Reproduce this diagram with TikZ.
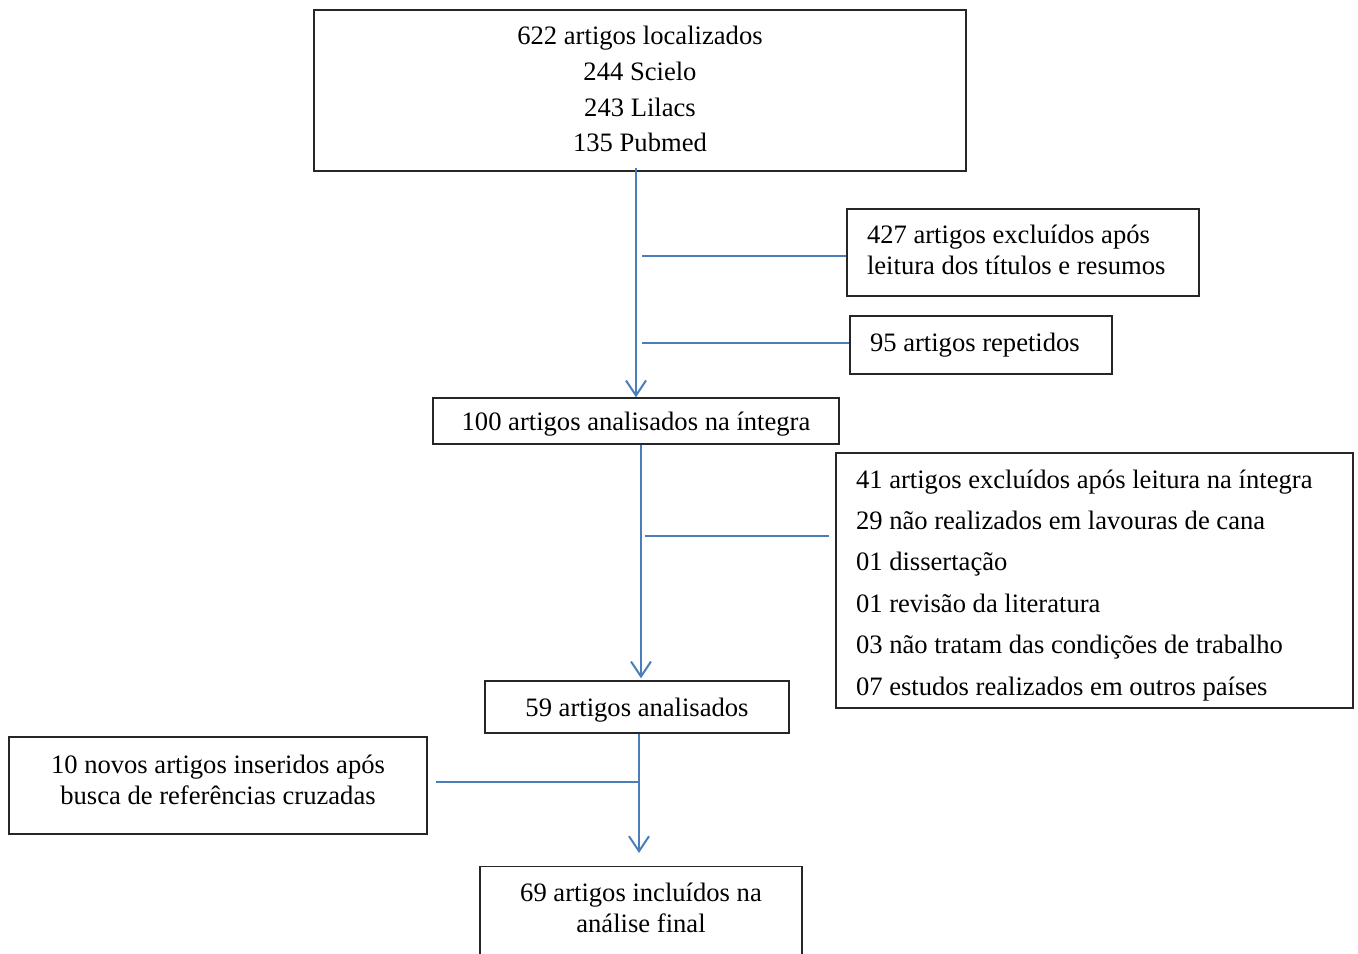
\documentclass[tikz,border=0pt]{standalone}
\usepackage{fontspec}
\setmainfont{Liberation Serif}
\usetikzlibrary{arrows.meta}
\definecolor{flowblue}{HTML}{4A7EBB}
\tikzset{
  box/.style={draw=black!85, line width=0.7pt, inner sep=0pt},
  flow/.style={draw=flowblue, line width=1pt},
  flowarrow/.style={flow, -{Straight Barb[length=7.5pt,width=10pt]}},
  txt/.style={font=\fontsize{13.3}{#1}\selectfont}
}
\begin{document}
\begin{tikzpicture}[x=0.5pt, y=-0.5pt]
\useasboundingbox (0,0) rectangle (1358,953);

\node[box, txt=17.9pt, minimum width=326pt, minimum height=80.5pt, align=center, text depth=1.5pt] (found) at (640,90.5)
  {622 artigos localizados\\244 Scielo\\243 Lilacs\\135 Pubmed};
\node[box, txt=15.5pt, minimum width=176pt, minimum height=43.5pt, text width=156pt, align=flush left, text depth=18.3pt] (titles) at (1023,252.5)
  {427 artigos excluídos após\\leitura dos títulos e resumos};
\node[box, txt=15.5pt, minimum width=131pt, minimum height=29pt, text width=111pt, align=flush left] (repeated) at (981,345)
  {95 artigos repetidos};
\node[box, txt=15.5pt, minimum width=203pt, minimum height=23pt, text depth=-2.2pt] (analysed) at (636,421)
  {100 artigos analisados na íntegra};
\node[box, txt=20.7pt, minimum width=258.5pt, minimum height=127.5pt, text width=238.5pt, align=flush left, text depth=101.6pt] (excluded) at (1094.5,580.5)
  {41 artigos excluídos após leitura na íntegra\\29 não realizados em lavouras de cana\\01 dissertação\\01 revisão da literatura\\03 não tratam das condições de trabalho\\07 estudos realizados em outros países};
\node[box, txt=15.5pt, minimum width=152pt, minimum height=26pt, text depth=-0.1pt] (checked) at (637,707)
  {59 artigos analisados};
\node[box, txt=15.5pt, minimum width=209pt, minimum height=48.5pt, align=center, text depth=6pt] (inserted) at (218,785.5)
  {10 novos artigos inseridos após\\busca de referências cruzadas};
\node[box, minimum width=161pt, minimum height=60pt, anchor=north] (final) at (641,866) {};
\node[txt=15.3pt, align=center] (finaltext) at (641,908)
  {69 artigos incluídos na\\análise final};

\coordinate (cut41) at (829,536);

\draw[flowarrow] ([yshift=2pt]found.south -| analysed.north) -- (analysed.north);
\draw[flow] ([xshift=3pt,yshift=-1.75pt]titles.west -| analysed.north) -- ([yshift=-1.75pt]titles.west);
\draw[flow] ([xshift=3pt,yshift=1pt]repeated.west -| analysed.north) -- ([yshift=1pt]repeated.west);
\draw[flowarrow] ([xshift=2.5pt]analysed.south) -- ([xshift=2.5pt,yshift=1pt]analysed.south |- checked.north);
\draw[flow] ([xshift=4.5pt]cut41 -| analysed.south) -- (cut41);
\draw[flowarrow] ([xshift=1pt]checked.south) -- ([xshift=1pt,yshift=6.5pt]checked.south |- final.north);
\draw[flow] ([xshift=4pt,yshift=1.75pt]inserted.east) -- ([xshift=1.5pt,yshift=1.75pt]inserted.east -| checked.south);
\end{tikzpicture}
\end{document}
